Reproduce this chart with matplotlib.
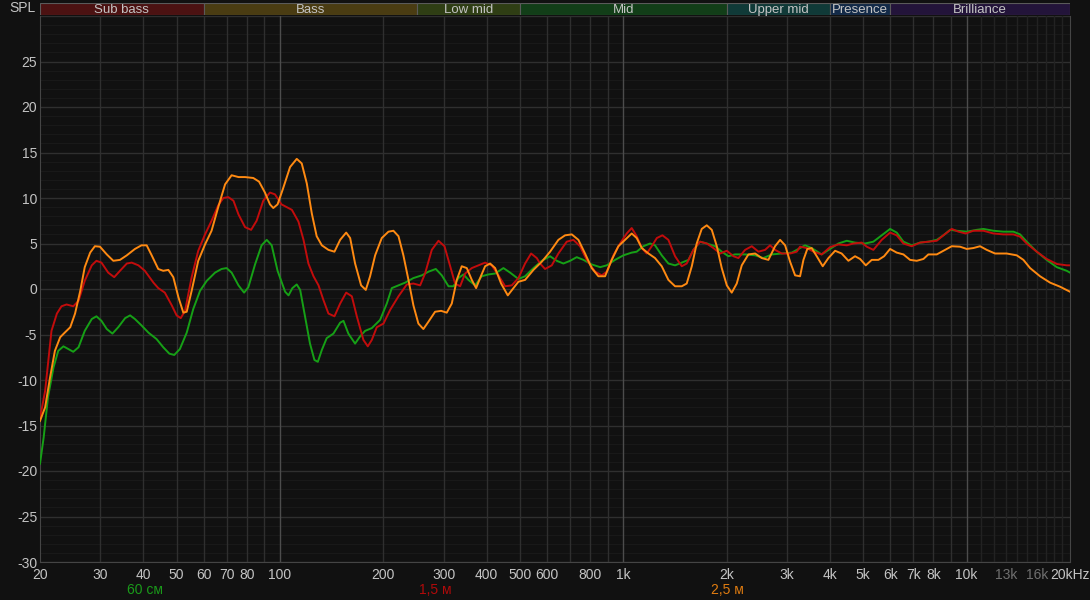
import matplotlib.pyplot as plt

# --- данные (частота, Гц / уровень, дБ) ---
freq_60cm = [20, 20.5, 21.1, 21.9, 22.6, 23.4, 24.2, 25.0, 25.9, 27.0, 28.3, 29.2, 30.2, 31.3, 32.5,
             33.8, 35.4, 36.6, 37.8, 39.5, 41.4, 43.7, 45.7, 47.6, 49.2, 51.1, 53.5, 55.9, 58.5,
             61.2, 64.7, 67.6, 69.9, 72.3, 75.7, 78.6, 80.9, 84.6, 88.4, 91.5, 94.6, 98.4,
             103.5, 105.9, 108.7, 111.9, 114.5, 118.3, 122.3, 126, 128.9, 132.4, 136.8, 143.1,
             149.7, 153.1, 158.2, 165.5, 171.2, 177, 185.1, 195.7, 204.7, 211.7, 221.4, 231.5,
             244.7, 258.9, 270.6, 284.3, 296, 309.6, 320.1, 330.9, 342.3, 354, 370.1, 387, 404.7,
             423.3, 447.5, 468, 494.9, 517.5, 547.4,
             578.9, 612, 639.8, 669.1, 700.1, 731.6, 765.4, 809, 856.1, 894.9, 946.3, 1000.6,
             1058, 1094, 1144, 1197, 1237, 1294, 1353, 1415, 1480, 1548, 1600, 1673, 1750, 1851,
             1935, 2024, 2116, 2263, 2421, 2559, 2706, 2894, 3096, 3236,
             3383, 3537, 3782, 4002, 4231, 4476, 4731, 5062, 5350, 5657, 5984, 6256, 6544, 6917,
             7316, 7735, 8183, 8556, 8949, 9358, 10006, 10699, 11190, 11969, 12794, 13683, 14312,
             14963, 16000, 17109, 18303, 19563, 20000]
spl_60cm = [-19.2, -16.3, -11.9, -8.6, -6.8, -6.3, -6.6, -6.9, -6.4, -4.6, -3.3, -3.0, -3.5, -4.4, -4.9,
            -4.2, -3.2, -2.9, -3.3, -4.0, -4.8, -5.5, -6.4, -7.1, -7.25, -6.6, -4.8, -2.2, -0.2,
            0.9, 1.8, 2.2, 2.3, 1.8, 0.4, -0.4, 0.2, 2.7, 4.8, 5.4, 4.8, 2.0,
            -0.3, -0.7, 0.1, 0.5, -0.1, -3.0, -6.0, -7.8, -8.0, -6.7, -5.4, -4.9,
            -3.7, -3.5, -4.9, -6.0, -5.2, -4.6, -4.3, -3.4, -1.6, 0.1, 0.4, 0.7,
            1.2, 1.5, 1.9, 2.2, 1.5, 0.3, 0.3, 1.2, 1.6, 1.0, 0.4, 1.4, 1.6,
            1.7, 2.3, 1.8, 1.1, 1.4, 2.3,
            3.1, 3.6, 3.1, 2.8, 3.1, 3.5, 3.2, 2.7, 2.4, 2.6, 3.2, 3.7,
            4.0, 4.1, 4.7, 5.0, 4.8, 3.7, 2.8, 2.6, 2.9, 3.2, 4.3, 5.2, 5.0, 4.7,
            4.1, 3.6, 3.8, 3.8, 3.7, 3.4, 3.8, 3.9, 4.0, 4.4,
            4.8, 4.5, 3.8, 4.4, 5.0, 5.3, 5.1, 5.0, 5.2, 5.9, 6.6, 6.2, 5.2, 4.8,
            5.1, 5.2, 5.4, 5.9, 6.5, 6.4, 6.3, 6.5, 6.6, 6.4, 6.3, 6.3, 6.0,
            5.2, 4.1, 3.2, 2.4, 2.0, 1.8]

freq_1_5m = [20, 20.7, 21.1, 21.6, 22.4, 23.1, 23.9, 25.0, 25.9, 27.0, 28.3, 29.2, 30.2, 31.6, 32.9,
             34.2, 35.8, 37.0, 38.7, 40.4, 42.8, 44.2, 46.2, 48.4, 50.0, 51.4, 52.9, 55.3, 57.8,
             60.5, 63.2, 66.1, 68.4, 70.7, 73.2, 75.7, 79.1, 82.4, 85.5, 89.4, 93.5, 96.7, 101,
             108.3, 113.2, 117.1, 121, 125.2, 129.5, 133.8, 138.4, 144.1, 149.7, 155.9, 161.9,
             167.4, 175, 180.2, 185.1, 191.4, 200.2, 209.3, 221.4, 234.1, 244.7, 256, 264.6,
             276.8, 289.5, 301.4, 313, 323.6, 334.7, 346.1, 362, 378.6, 395.8, 413.8, 432.8,
             452.7, 473.3, 494.9, 517.5, 538.8, 559.7,
             572.2, 591.7, 618.9, 647, 684.2, 715.5, 748.2, 782.5, 827.7, 865.5, 894.9, 935.8,
             978.6, 1023, 1058, 1094, 1132, 1170, 1210, 1252, 1300, 1353, 1415, 1480, 1530, 1600,
             1673, 1750, 1830, 1914, 2002, 2093, 2164, 2263, 2367, 2475, 2588, 2676, 2767, 2894,
             3060, 3200,
             3272, 3423, 3580, 3782, 4002, 4231, 4476, 4679, 4948, 5117, 5350, 5657, 5984, 6256,
             6544, 6917, 7316, 7735, 8183, 8556, 9048, 9463, 9937, 10461, 11190, 11969, 12794,
             13683, 14312, 14963, 16000, 17109, 18303, 19563, 20000]
spl_1_5m = [-14.2, -11.2, -8.2, -4.6, -2.7, -1.9, -1.7, -1.9, -1.3, 0.9, 2.6, 3.1, 2.9, 1.8, 1.3,
            2.0, 2.8, 2.9, 2.6, 2.0, 0.7, 0.1, -0.4, -1.8, -2.9, -3.2, -2.4, 1.3, 4.2,
            6.0, 7.5, 9.2, 10.0, 10.1, 9.7, 8.2, 6.8, 6.5, 7.5, 9.7, 10.6, 10.4, 9.3,
            8.7, 7.4, 5.4, 2.8, 1.4, 0.4, -1.2, -2.7, -3.0, -1.6, -0.4, -0.8,
            -3.0, -5.6, -6.3, -5.6, -4.2, -3.8, -2.3, -0.8, 0.5, 0.6, 0.4, 1.7,
            4.3, 5.3, 4.7, 2.5, 0.6, 0.3, 1.7, 2.3, 2.6, 2.9, 2.6, 1.5,
            0.3, 0.4, 1.2, 2.8, 3.9, 3.4,
            2.8, 2.2, 2.6, 3.9, 5.2, 5.4, 4.7, 3.2, 1.9, 1.5, 1.9, 3.7,
            5.0, 6.1, 6.7, 5.8, 4.5, 3.9, 4.7, 5.6, 5.9, 5.4, 3.6, 2.5, 2.8, 4.3,
            5.2, 5.0, 4.5, 3.9, 4.2, 3.6, 3.4, 4.3, 4.7, 4.1, 4.3, 4.8, 4.3, 3.9,
            3.9, 4.1,
            4.65, 4.5, 4.1, 3.8, 4.6, 4.9, 4.8, 5.0, 5.1, 4.65, 4.3, 5.4, 6.2, 5.9,
            5.0, 4.7, 5.1, 5.2, 5.3, 5.9, 6.6, 6.3, 6.1, 6.4, 6.4, 6.1, 6.0,
            6.0, 5.75, 5.0, 4.1, 3.3, 2.75, 2.6, 2.6]

freq_2_5m = [20, 20.7, 21.4, 22.1, 22.9, 23.6, 24.5, 25.3, 26.2, 27.0, 28.0, 28.9, 29.9, 31.3, 32.7,
             34.2, 35.8, 37.8, 39.5, 40.9, 42.3, 44.2, 45.7, 47.3, 48.9, 50.6, 52.3, 53.5, 55.3,
             57.8, 60.5, 63.2, 66.1, 69.2, 72.3, 75.7, 79.1, 83.6, 86.9, 90.4, 93.5, 95.6, 98.4,
             102, 107, 111.9, 115.7, 119.7, 123.8, 127.9, 132.4, 138.4, 144.1, 149.7, 155.9, 160.1,
             165.5, 172.3, 177.8, 183, 189.3, 197.9, 207, 214, 221.4, 228.8, 236.7, 244.7, 253,
             261.6, 270.6, 283, 294.7, 306, 316.5, 327.3, 338.4, 350, 362, 372.6, 382.7, 395.8,
             409.3, 423.3, 440.6, 460.8, 478.6, 494.9, 517.5, 547.4,
             578.9, 612, 647, 676.8, 707.8, 740, 773.7, 809, 846, 884.9, 925.3, 967.4, 1012, 1058,
             1094, 1132, 1184, 1237, 1294, 1353, 1415, 1480, 1530, 1583, 1636, 1692, 1750, 1810,
             1872, 1935, 2002, 2069, 2140, 2213, 2314, 2421, 2531, 2646, 2767, 2862, 2960, 3060,
             3165, 3272,
             3347, 3435, 3537, 3659, 3809, 3957, 4139, 4325, 4525, 4731, 4894, 5085, 5291, 5533,
             5749, 5984, 6256, 6544, 6842, 7156, 7483, 7735, 8183, 8556, 9048, 9567, 10006, 10461,
             10942, 11442, 12100, 13081, 13994, 14632, 15303, 16360, 17499, 18716, 20000]
spl_2_5m = [-14.5, -13.0, -9.7, -6.8, -5.3, -4.8, -4.2, -2.7, -0.2, 2.4, 4.0, 4.7, 4.65, 3.8, 3.1,
            3.2, 3.7, 4.4, 4.8, 4.8, 3.7, 2.2, 2.0, 2.1, 1.3, -0.9, -2.6, -2.5, -0.2,
            3.1, 4.9, 6.4, 9.0, 11.5, 12.5, 12.3, 12.3, 12.2, 11.8, 10.6, 9.3, 8.9, 9.3,
            11.0, 13.4, 14.3, 13.8, 11.6, 8.3, 5.8, 4.8, 4.3, 4.1, 5.4, 6.2, 5.6,
            2.8, 0.4, -0.1, 1.4, 3.7, 5.6, 6.3, 6.4, 5.8, 3.7, 1.0, -1.8, -3.8,
            -4.4, -3.6, -2.5, -2.4, -2.6, -1.6, 1.0, 2.5, 2.3, 1.0, 0.1, 1.2, 2.5,
            2.8, 2.3, 0.6, -0.7, 0.1, 0.8, 1.0, 2.1,
            3.0, 4.1, 5.4, 5.9, 6.0, 5.4, 3.9, 2.3, 1.4, 1.4, 3.2, 4.7, 5.4, 6.1,
            5.6, 4.5, 3.9, 3.4, 2.5, 1.0, 0.3, 0.3, 0.6, 2.5, 5.0, 6.6, 7.0, 6.5,
            4.7, 2.3, 0.4, -0.4, 0.6, 2.6, 3.8, 3.9, 3.4, 3.2, 4.7, 5.4, 4.8, 3.0,
            1.5, 1.4,
            3.2, 4.4, 4.5, 3.6, 2.5, 3.4, 4.2, 3.9, 3.1, 3.6, 3.3, 2.6, 3.2, 3.2,
            3.6, 4.4, 4.0, 3.8, 3.2, 3.1, 3.3, 3.8, 3.8, 4.2, 4.7, 4.65, 4.4, 4.5,
            4.7, 4.3, 3.9, 3.9, 3.7, 3.2, 2.3, 1.4, 0.7, 0.25, -0.3]

series_labels = ["60 см", "1,5 м", "2,5 м"]

bands = ["Sub bass", "Bass", "Low mid", "Mid", "Upper mid", "Presence", "Brilliance"]
band_edges = [20, 60, 250, 500, 2000, 4000, 6000, 20000]

xtick_freqs = [20, 30, 40, 50, 60, 70, 80, 100, 200, 300, 400, 500, 600, 800, 1000,
               2000, 3000, 4000, 5000, 6000, 7000, 8000, 10000, 13000, 16000, 20000]
xtick_labels = ["20", "30", "40", "50", "60", "70", "80", "100", "200", "300", "400", "500",
                "600", "800", "1k", "2k", "3k", "4k", "5k", "6k", "7k", "8k", "10k", "13k",
                "16k", "20kHz"]
ytick_vals = [-30, -25, -20, -15, -10, -5, 0, 5, 10, 15, 20, 25]

# --- оформление ---
plt.rcParams['font.family'] = ['Liberation Sans', 'DejaVu Sans']
bg = '#111111'
txt = '#c4c4c4'
line_colors = ['#16a016', '#c20c0c', '#ff8a12']
label_colors = ['#1a9a1a', '#b00a0a', '#e07c10']
band_colors = ['#4c1212', '#4a3c12', '#2f3e14', '#123e18', '#103a38', '#132a48', '#23143a']

W, H = 1090, 600
fig = plt.figure(figsize=(W / 100, H / 100), dpi=100, facecolor=bg)
x0, x1 = 40 / W, 1070 / W
ax = fig.add_axes([x0, 1 - 562 / H, x1 - x0, (562 - 16) / H])
ax.set_facecolor(bg)
ax.set_xscale('log')
ax.set_xlim(20, 20000)
ax.set_ylim(-30, 30)

# сетка
for v in range(-30, 31):
    if v % 5:
        ax.axhline(v, color='#1a1a1a', lw=0.7, zorder=0)
    else:
        ax.axhline(v, color='#2f2f2f', lw=1.0, zorder=0)
vgrid = list(range(30, 100, 10)) + list(range(200, 1000, 100)) + list(range(2000, 10000, 1000))
for f in vgrid:
    ax.axvline(f, color='#2f2f2f', lw=1.0, zorder=0)
for f in range(11000, 20000, 1000):
    ax.axvline(f, color='#222222', lw=1.0, zorder=0)
for f in [100, 1000, 10000]:
    ax.axvline(f, color='#4c4c4c', lw=1.0, zorder=0)

# кривые
ax.plot(freq_60cm, spl_60cm, color=line_colors[0], lw=1.4, zorder=3, solid_joinstyle='round')
ax.plot(freq_1_5m, spl_1_5m, color=line_colors[1], lw=1.4, zorder=4, solid_joinstyle='round')
ax.plot(freq_2_5m, spl_2_5m, color=line_colors[2], lw=1.4, zorder=5, solid_joinstyle='round')

for s in ['left', 'bottom', 'right']:
    ax.spines[s].set_color('#454545')
ax.spines['top'].set_visible(False)

ax.set_xticks(xtick_freqs)
ax.set_xticklabels(xtick_labels)
ax.xaxis.set_minor_locator(plt.NullLocator())
ax.set_yticks(ytick_vals)
ax.set_yticklabels([str(v) for v in ytick_vals])
ax.tick_params(axis='both', length=0, colors=txt, labelsize=10)
ax.tick_params(axis='x', pad=4)
ax.tick_params(axis='y', pad=2)
for lbl in ax.get_xticklabels():
    if lbl.get_text() in ('13k', '16k'):
        lbl.set_color('#707070')

# полосы сверху
bax = fig.add_axes([x0, 1 - 15 / H, x1 - x0, 12 / H])
bax.set_xscale('log')
bax.set_xlim(20, 20000)
bax.set_ylim(0, 1)
bax.axis('off')
for i, name in enumerate(bands):
    lo, hi = band_edges[i], band_edges[i + 1]
    bax.axvspan(lo, hi, facecolor=band_colors[i], edgecolor='#5a5a5a', lw=0.8)
    bax.text((lo * hi) ** 0.5, 0.45, name, ha='center', va='center', color=txt, fontsize=9.5)

fig.text(36 / W, 1 - 8 / H, "SPL", ha='right', va='center', color=txt, fontsize=10)

legend_x = [145, 435, 727]
for lx, name, c in zip(legend_x, series_labels, label_colors):
    fig.text(lx / W, 1 - 590 / H, name, ha='center', va='center', color=c, fontsize=10)

fig.savefig('out.png', dpi=100, facecolor=bg)
